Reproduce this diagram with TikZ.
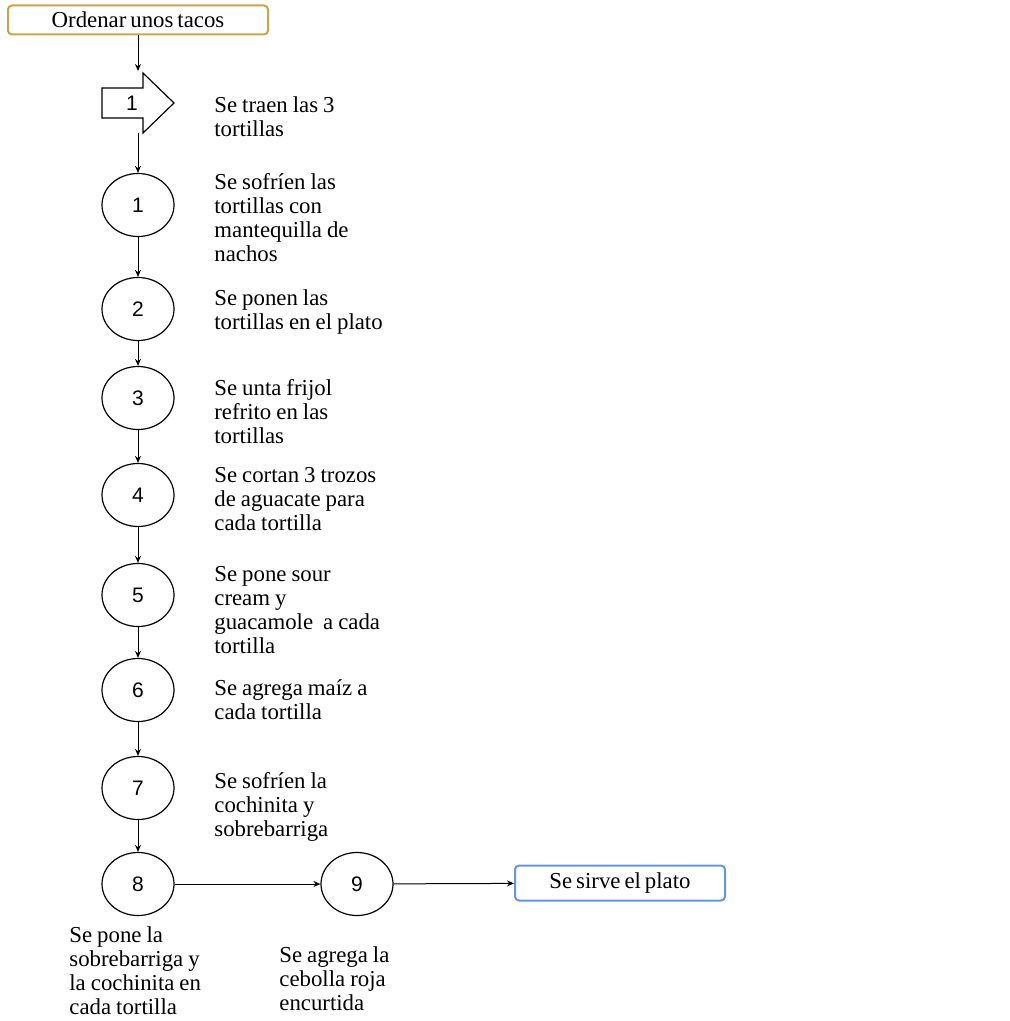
\documentclass[tikz,border=0pt]{standalone}
\usepackage{fontspec}
\setmainfont{Liberation Serif}[WordSpace=0.7]
\newfontfamily\numfont{Liberation Sans}
\usepackage{xcolor}
\usetikzlibrary{positioning,shapes.geometric,arrows.meta}

\definecolor{bordeinicio}{HTML}{C9A54E}
\definecolor{bordefin}{HTML}{6A93DB}

\begin{document}
\begin{tikzpicture}[x=0.5pt,y=-0.5pt,
    paso/.style={draw,ellipse,line width=0.6pt,minimum width=36pt,minimum height=31.5pt,inner sep=0pt,font=\numfont\fontsize{10.5}{11}\selectfont},
    nota/.style={anchor=base west,text width=110pt,align=left,inner sep=0pt,font=\fontsize{11.4}{12}\selectfont,
        execute at begin node={\spaceskip=0.22em plus 0.1em\relax}},
    caja/.style={draw,rounded corners=2pt,line width=1pt,inner sep=0pt,font=\fontsize{11.4}{12}\selectfont},
    flecha/.style={-{Stealth[length=3.5pt,width=3pt]},line width=0.5pt}]
    \useasboundingbox (0,0) rectangle (1010,1021);

    % inicio y fin
    \node[caja,draw=bordeinicio,minimum width=130pt,minimum height=14.5pt] (inicio) at (138,20) {Ordenar unos tacos};
    \node[caja,draw=bordefin,minimum width=105pt,minimum height=17.5pt] (fin) at (620,883) {Se sirve el plato};

    % operación de transporte (flecha 1)
    \draw[line width=0.6pt] (102,88) -- (143,88) -- (143,73) -- (174,103) -- (143,133) -- (143,118) -- (102,118) -- cycle;
    \node[font=\numfont\fontsize{10.5}{11}\selectfont] (op1) at (132,103) {1};
    \coordinate (entrada) at (138,71);
    \coordinate (salida)  at (138,133);

    % pasos 1..9
    \foreach \n/\y in {1/205,2/309,3/398,4/495,5/595,6/690,7/788,8/884} {
        \node[paso] (c\n) at (138,\y) {\n};
    }
    \node[paso] (c9) at (357,884) {9};

    % conectores
    \draw[flecha] (inicio) -- (entrada);
    \draw[flecha] (salida) -- (c1);
    \foreach \a/\b in {1/2,2/3,3/4,4/5,5/6,6/7,7/8} {
        \draw[flecha] (c\a) -- (c\b);
    }
    \draw[flecha] (c8) -- (c9);
    \draw[flecha] (c9) -- (fin);

    % descripciones
    \node[nota] (t0) at (214,113) {Se traen las 3\\tortillas};
    \node[nota] (t1) at (214,190) {Se sofríen las\\tortillas con\\mantequilla de\\nachos};
    \node[nota] (t2) at (214,306) {Se ponen las\\tortillas en el plato};
    \node[nota] (t3) at (214,395) {Se unta frijol\\refrito en las\\tortillas};
    \node[nota] (t4) at (214,482) {Se cortan 3 trozos\\de aguacate para\\cada tortilla};
    \node[nota] (t5) at (214,581) {Se pone sour\\cream y\\guacamole\ \ a cada\\tortilla};
    \node[nota] (t6) at (214,695) {Se agrega maíz a\\cada tortilla};
    \node[nota] (t7) at (214,788) {Se sofríen la\\cochinita y\\sobrebarriga};
    \node[nota] (t8) at (69,942) {Se pone la\\sobrebarriga y\\la cochinita en\\cada tortilla};
    \node[nota] (t9) at (279,962) {Se agrega la\\cebolla roja\\encurtida};
\end{tikzpicture}
\end{document}
